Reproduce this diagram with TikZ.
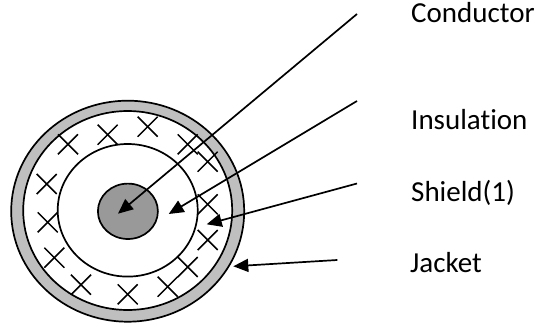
\documentclass[tikz,border=0pt]{standalone}
\usepackage{fontspec}
\setmainfont[Ligatures={NoCommon}]{Carlito}
\usetikzlibrary{arrows.meta}
\tikzset{
  ring/.style={draw=black,line width=1.7pt},
  xmark/.style={draw=black,line width=1.5pt},
  lead/.style={draw=black,line width=1.7pt,-{Triangle[length=15pt,width=13pt]}},
  tag/.style={anchor=base west,inner sep=0pt,font=\fontsize{29}{34}\selectfont}
}
\begin{document}
\begin{tikzpicture}[x=1pt,y=-1pt]
\useasboundingbox (0,0) rectangle (541,327);
% cable cross-section
\path[ring,fill=black!25] (127.7,211.2) ellipse [x radius=116.5,y radius=110.5];
\path[ring,fill=white] (127.7,210.5) ellipse [x radius=104.5,y radius=99.5];
% shield crosses
\foreach \cx/\cy in {68/144.3,107.7/134.7,147.7/126.7,187.7/144.3,207.7/161.7,46.7/184,47.7/222.3,207.7/204.3,207.7/240,54.3/257.7,81/284.7,127.7/294.3,167.7/286.7,187.7/267}{
  \draw[xmark] (\cx-10,\cy-10) -- (\cx+10,\cy+10);
  \draw[xmark] (\cx-10,\cy+10) -- (\cx+10,\cy-10);
}
\path[ring,fill=white] (127.7,210.3) ellipse [x radius=70,y radius=66.3];
\path[ring,fill=black!40] (127.9,211.3) ellipse [x radius=30,y radius=27.7];
% leader ends
\coordinate (c0) at (357,14);   \coordinate (c1) at (118,213.7);
\coordinate (i0) at (357,101);  \coordinate (i1) at (168.7,214);
\coordinate (s0) at (357,183.5);\coordinate (s1) at (206.7,224.3);
\coordinate (j0) at (337.3,260);\coordinate (j1) at (233.3,266.3);
\draw[lead] (c0) -- (c1);
\draw[lead] (i0) -- (i1);
\draw[lead] (s0) -- (s1);
\draw[lead] (j0) -- (j1);
% labels
\node[tag] (conductor) at (411,22) {Conductor};
\node[tag] (insulation) at (411,129) {Insulation};
\node[tag] (shield) at (411,201) {Shield(1)};
\node[tag] (jacket) at (410,272.7) {Jacket};
\end{tikzpicture}
\end{document}
